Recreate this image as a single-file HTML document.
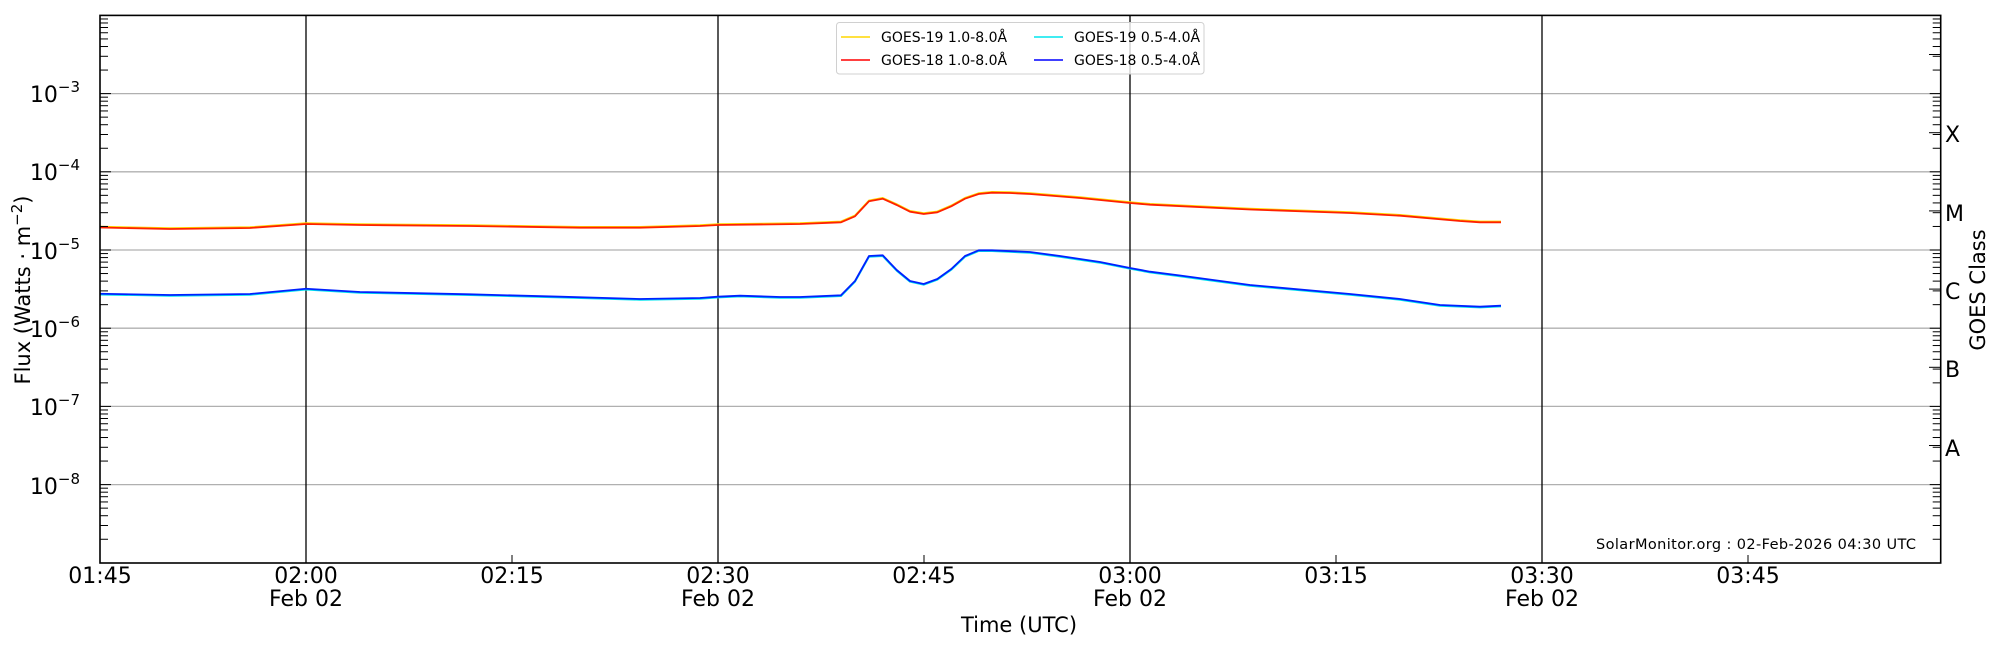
<!DOCTYPE html>
<html><head><meta charset="utf-8">
<style>
html,body{margin:0;padding:0;background:#fff;}
svg{display:block;font-family:"DejaVu Sans","Liberation Sans",sans-serif;}
</style></head>
<body>
<svg id="s" width="2000" height="650" viewBox="0 0 2000 650" xmlns="http://www.w3.org/2000/svg">
<rect width="2000" height="650" fill="#fff"/>
<g id="grid"></g>
<g id="vlines" stroke="#000" stroke-width="1.3">
<line x1="306" y1="15.4" x2="306" y2="563" />
<line x1="718" y1="15.4" x2="718" y2="563" />
<line x1="1130" y1="15.4" x2="1130" y2="563" />
<line x1="1542" y1="15.4" x2="1542" y2="563" />
</g>
<g id="series" fill="none" stroke-width="1.8" stroke-linejoin="round"></g>
<g id="ticks" stroke="#000" stroke-width="1"></g>
<rect x="100" y="15.4" width="1840.7" height="547.6" fill="none" stroke="#000" stroke-width="1.6"/>
<!-- legend -->
<rect x="836.5" y="22.5" width="367.5" height="51.5" rx="3" fill="#fff" fill-opacity="0.8" stroke="#d0d0d0" stroke-width="1"/>
<line x1="841" y1="37" x2="870" y2="37" stroke="#ffd700" stroke-width="1.5"/>
<line x1="841" y1="60" x2="870" y2="60" stroke="#ff0000" stroke-width="1.5"/>
<line x1="1034" y1="37" x2="1063" y2="37" stroke="#00e5ee" stroke-width="1.5"/>
<line x1="1034" y1="60" x2="1063" y2="60" stroke="#0000ff" stroke-width="1.5"/>
<g font-size="14" fill="#000">
<text x="881" y="42">GOES-19 1.0-8.0Å</text>
<text x="881" y="65">GOES-18 1.0-8.0Å</text>
<text x="1074" y="42">GOES-19 0.5-4.0Å</text>
<text x="1074" y="65">GOES-18 0.5-4.0Å</text>
</g>
<!-- y tick labels -->
<g font-size="22" fill="#000" text-anchor="end">
<text x="80" y="102">10<tspan dy="-10" font-size="15">−3</tspan></text>
<text x="80" y="180">10<tspan dy="-10" font-size="15">−4</tspan></text>
<text x="80" y="259">10<tspan dy="-10" font-size="15">−5</tspan></text>
<text x="80" y="337">10<tspan dy="-10" font-size="15">−6</tspan></text>
<text x="80" y="415">10<tspan dy="-10" font-size="15">−7</tspan></text>
<text x="80" y="494">10<tspan dy="-10" font-size="15">−8</tspan></text>
</g>
<g font-size="22" fill="#000" text-anchor="middle">
<text x="100" y="583">01:45</text>
<text x="306" y="583">02:00</text><text x="306" y="606">Feb 02</text>
<text x="512" y="583">02:15</text>
<text x="718" y="583">02:30</text><text x="718" y="606">Feb 02</text>
<text x="924" y="583">02:45</text>
<text x="1130" y="583">03:00</text><text x="1130" y="606">Feb 02</text>
<text x="1336" y="583">03:15</text>
<text x="1542" y="583">03:30</text><text x="1542" y="606">Feb 02</text>
<text x="1748" y="583">03:45</text>
</g>
<g font-size="21" fill="#000" text-anchor="middle">
<text x="1019" y="632">Time (UTC)</text>
<text transform="translate(30,290) rotate(-90)">Flux (Watts · m<tspan dy="-8" font-size="15">−2</tspan><tspan dy="8">)</tspan></text>
<text transform="translate(1985,290) rotate(-90)">GOES Class</text>
</g>
<g font-size="22" fill="#000">
<text x="1945" y="142">X</text>
<text x="1945" y="221">M</text>
<text x="1945" y="299">C</text>
<text x="1945" y="377">B</text>
<text x="1945" y="456">A</text>
</g>
<text x="1596" y="549" font-size="14.5" textLength="320" fill="#000">SolarMonitor.org : 02-Feb-2026 04:30 UTC</text>
<script>
(function(){
var NS="http://www.w3.org/2000/svg";
function Y(l){return 15.4+(-2-l)*78.2;}
function el(p,n,a){var e=document.createElementNS(NS,n);for(var k in a)e.setAttribute(k,a[k]);p.appendChild(e);return e;}
var g=document.getElementById('grid');
for(var d=-3;d>=-8;d--){el(g,'line',{x1:100,x2:1940.7,y1:Y(d),y2:Y(d),stroke:'#b0b0b0','stroke-width':1.3});}
var t=document.getElementById('ticks');
for(var d=-9;d<-2;d++){
  for(var m=1;m<10;m++){
    var y=Y(d+Math.log10(m)); var L=(m==1)?11:8;
    if(m==1&&d==-9)continue;
    el(t,'line',{x1:100,x2:100+L,y1:y,y2:y});
    el(t,'line',{x1:1940.7,x2:1940.7-L,y1:y,y2:y});
  }
}
for(var i=0;i<9;i++){var x=100+206*i;el(t,'line',{x1:x,x2:x,y1:563,y2:555});}
for(var d=-8;d<=-3;d++){var y=Y(d+0.5);el(t,'line',{x1:1940.7,x2:1929,y1:y,y2:y});}
var red=[[100,227.5],[170,229],[250,228],[306,224],[360,225],[470,226],[580,227.7],[640,227.7],[700,226],[718,225],[800,224],[841,222.3],[855,216.3],[869,201.3],[882.7,198.7],[896.7,205],[910,211.7],[923.7,214],[937.3,212.3],[951.3,206.3],[965,198.7],[978.7,194],[992,192.7],[1010,193],[1030,194],[1080,198],[1130,203],[1150,204.7],[1250,209.5],[1350,213],[1400,215.7],[1460,221],[1480,222.3],[1501,222.3]];
var blue=[[100,293.75],[170,295],[250,294],[306,288.75],[360,292],[470,294.3],[560,296.7],[640,299],[700,298],[718,296.7],[740,295.7],[780,297],[800,297],[841,295.3],[855,281],[869,256],[882.7,255.3],[896.7,270],[910,281],[923.7,284],[937.3,279],[951.3,269],[965,256],[978.7,250.3],[992,250.3],[1030,252],[1060,256],[1100,262],[1130,268],[1150,271.7],[1180,275.5],[1250,285],[1350,294],[1400,299],[1440,305],[1480,306.7],[1501,305.7]];
function pts(a,dy){return a.map(function(p){return p[0]+','+(p[1]+dy)}).join(' ');}
var s=document.getElementById('series');
el(s,'polyline',{points:pts(red,-0.8),stroke:'#ffd700'});
el(s,'polyline',{points:pts(blue,0.8),stroke:'#00e5ee'});
el(s,'polyline',{points:pts(red,0),stroke:'#ff2000'});
el(s,'polyline',{points:pts(blue,0),stroke:'#0020ff'});
})();
</script>
</svg>
</body></html>
